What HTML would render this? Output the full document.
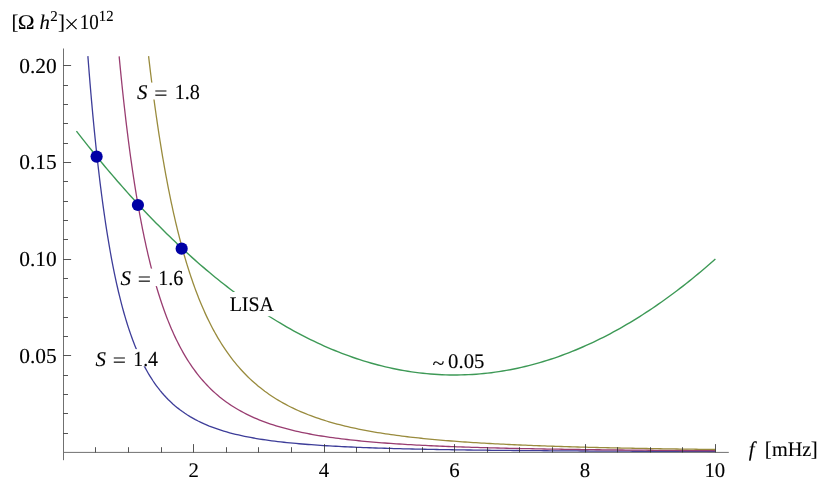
<!DOCTYPE html>
<html><head><meta charset="utf-8"><title>plot</title>
<style>
html,body{margin:0;padding:0;background:#fff;}
body{width:830px;height:489px;overflow:hidden;}
svg{display:block;will-change:transform;}
text{font-family:"Liberation Serif",serif;font-size:20.8px;fill:#000;stroke:#000;stroke-width:0.12px;text-rendering:geometricPrecision;}
.i{font-style:italic;}
</style></head><body>
<svg width="830" height="489" viewBox="0 0 830 489">
<rect width="830" height="489" fill="#fff"/>
<g fill="none" stroke-width="1.3" stroke-linejoin="round">
<path stroke="#3D3D99" d="M87.88,56.11 L88.11,59.16 L88.35,62.21 L88.59,65.26 L88.83,68.32 L89.07,71.37 L89.31,74.42 L89.56,77.47 L89.81,80.53 L90.07,83.58 L90.32,86.63 L90.58,89.68 L90.84,92.73 L91.11,95.78 L91.37,98.83 L91.64,101.88 L91.92,104.93 L92.19,107.98 L92.47,111.03 L92.75,114.08 L93.04,117.13 L93.32,120.18 L93.62,123.23 L93.91,126.27 L94.21,129.32 L94.51,132.37 L94.82,135.41 L95.13,138.46 L95.44,141.51 L95.75,144.55 L96.07,147.60 L96.40,150.64 L96.73,153.69 L97.06,156.73 L97.40,159.77 L97.74,162.82 L98.08,165.86 L98.43,168.90 L98.79,171.94 L99.15,174.98 L99.51,178.02 L99.88,181.06 L100.25,184.10 L100.63,187.14 L101.02,190.18 L101.41,193.22 L101.81,196.25 L102.21,199.29 L102.62,202.32 L103.03,205.36 L103.45,208.39 L103.88,211.42 L104.31,214.45 L104.75,217.48 L105.20,220.51 L105.65,223.54 L106.11,226.57 L106.58,229.60 L107.06,232.62 L107.54,235.64 L108.04,238.67 L108.54,241.69 L109.05,244.70 L109.57,247.72 L110.10,250.74 L110.64,253.75 L111.19,256.76 L111.75,259.78 L112.32,262.78 L112.90,265.79 L113.50,268.79 L114.10,271.80 L114.72,274.79 L115.35,277.79 L115.99,280.78 L116.65,283.78 L117.32,286.76 L118.01,289.75 L118.71,292.73 L119.43,295.70 L120.17,298.68 L120.92,301.65 L121.69,304.61 L122.47,307.57 L123.28,310.52 L124.11,313.47 L124.96,316.41 L125.83,319.35 L126.72,322.28 L127.64,325.20 L128.58,328.11 L129.55,331.02 L130.54,333.91 L131.57,336.80 L132.62,339.67 L133.70,342.54 L134.82,345.39 L135.97,348.23 L137.15,351.05 L138.37,353.86 L139.63,356.65 L140.93,359.43 L142.27,362.18 L143.65,364.91 L145.08,367.62 L146.55,370.30 L148.07,372.96 L149.64,375.59 L151.27,378.19 L152.94,380.75 L154.67,383.27 L156.46,385.76 L158.30,388.21 L160.20,390.61 L162.16,392.96 L164.18,395.26 L166.26,397.51 L168.39,399.71 L170.59,401.84 L172.84,403.92 L175.15,405.93 L177.51,407.88 L179.93,409.76 L182.39,411.57 L184.91,413.32 L187.47,415.00 L190.07,416.61 L192.72,418.15 L195.40,419.63 L198.12,421.04 L200.87,422.38 L203.65,423.67 L206.46,424.89 L209.29,426.06 L212.14,427.16 L215.02,428.22 L217.91,429.22 L220.82,430.17 L223.75,431.08 L226.68,431.94 L229.64,432.76 L232.60,433.53 L235.57,434.27 L238.55,434.97 L241.54,435.64 L244.53,436.27 L247.54,436.88 L250.54,437.45 L253.56,438.00 L256.57,438.52 L259.60,439.02 L262.62,439.49 L265.65,439.94 L268.68,440.37 L271.72,440.78 L274.75,441.17 L277.79,441.54 L280.83,441.90 L283.88,442.24 L286.92,442.57 L289.97,442.88 L293.01,443.18 L296.06,443.46 L299.11,443.74 L302.16,444.00 L305.22,444.25 L308.27,444.49 L311.32,444.72 L314.38,444.94 L317.43,445.16 L320.49,445.36 L323.54,445.56 L326.60,445.75 L329.65,445.93 L332.71,446.10 L335.77,446.27 L338.83,446.43 L341.88,446.59 L344.94,446.74 L348.00,446.88 L351.06,447.02 L354.12,447.16 L357.18,447.29 L360.24,447.41 L363.30,447.53 L366.36,447.65 L369.42,447.76 L372.48,447.87 L375.54,447.98 L378.60,448.08 L381.66,448.17 L384.72,448.27 L387.78,448.36 L390.84,448.45 L393.90,448.54 L396.96,448.62 L400.02,448.70 L403.09,448.78 L406.15,448.85 L409.21,448.93 L412.27,449.00 L415.33,449.07 L418.39,449.13 L421.45,449.20 L424.51,449.26 L427.58,449.32 L430.64,449.38 L433.70,449.44 L436.76,449.50 L439.82,449.55 L442.88,449.60 L445.95,449.65 L449.01,449.70 L452.07,449.75 L455.13,449.80 L458.19,449.85 L461.25,449.89 L464.32,449.93 L467.38,449.98 L470.44,450.02 L473.50,450.06 L476.56,450.10 L479.62,450.13 L482.69,450.17 L485.75,450.21 L488.81,450.24 L491.87,450.28 L494.93,450.31 L498.00,450.34 L501.06,450.37 L504.12,450.41 L507.18,450.44 L510.24,450.46 L513.31,450.49 L516.37,450.52 L519.43,450.55 L522.49,450.58 L525.55,450.60 L528.62,450.63 L531.68,450.65 L534.74,450.68 L537.80,450.70 L540.86,450.72 L543.93,450.75 L546.99,450.77 L550.05,450.79 L553.11,450.81 L556.17,450.83 L559.24,450.85 L562.30,450.87 L565.36,450.89 L568.42,450.91 L571.48,450.93 L574.55,450.95 L577.61,450.97 L580.67,450.98 L583.73,451.00 L586.79,451.02 L589.86,451.03 L592.92,451.05 L595.98,451.07 L599.04,451.08 L602.10,451.10 L605.17,451.11 L608.23,451.13 L611.29,451.14 L614.35,451.15 L617.41,451.17 L620.48,451.18 L623.54,451.19 L626.60,451.21 L629.66,451.22 L632.72,451.23 L635.79,451.24 L638.85,451.26 L641.91,451.27 L644.97,451.28 L648.03,451.29 L651.10,451.30 L654.16,451.31 L657.22,451.32 L660.28,451.33 L663.34,451.34 L666.41,451.35 L669.47,451.36 L672.53,451.37 L675.59,451.38 L678.66,451.39 L681.72,451.40 L684.78,451.41 L687.84,451.42 L690.90,451.43 L693.97,451.44 L697.03,451.45 L700.09,451.45 L703.15,451.46 L706.21,451.47 L709.28,451.48 L712.34,451.49 L715.40,451.49"/>
<path stroke="#993D71" d="M119.16,56.33 L119.43,59.21 L119.70,62.10 L119.98,64.99 L120.26,67.88 L120.55,70.77 L120.83,73.65 L121.12,76.54 L121.41,79.43 L121.71,82.31 L122.01,85.20 L122.31,88.08 L122.61,90.97 L122.92,93.86 L123.23,96.74 L123.54,99.62 L123.86,102.51 L124.18,105.39 L124.51,108.28 L124.84,111.16 L125.17,114.04 L125.50,116.92 L125.84,119.80 L126.18,122.69 L126.53,125.57 L126.88,128.45 L127.24,131.33 L127.60,134.20 L127.96,137.08 L128.33,139.96 L128.70,142.84 L129.08,145.72 L129.46,148.59 L129.84,151.47 L130.23,154.34 L130.63,157.22 L131.03,160.09 L131.44,162.96 L131.85,165.84 L132.26,168.71 L132.69,171.58 L133.11,174.45 L133.55,177.32 L133.99,180.18 L134.43,183.05 L134.88,185.92 L135.34,188.78 L135.80,191.65 L136.27,194.51 L136.75,197.37 L137.23,200.23 L137.72,203.09 L138.22,205.95 L138.73,208.81 L139.24,211.66 L139.76,214.52 L140.29,217.37 L140.82,220.22 L141.37,223.07 L141.92,225.92 L142.48,228.77 L143.06,231.61 L143.64,234.45 L144.23,237.29 L144.83,240.13 L145.44,242.97 L146.06,245.80 L146.69,248.64 L147.33,251.47 L147.98,254.29 L148.65,257.12 L149.33,259.94 L150.02,262.76 L150.72,265.57 L151.43,268.38 L152.16,271.19 L152.90,274.00 L153.66,276.80 L154.43,279.59 L155.22,282.39 L156.02,285.18 L156.84,287.96 L157.67,290.74 L158.52,293.51 L159.40,296.28 L160.28,299.04 L161.19,301.80 L162.12,304.55 L163.07,307.29 L164.03,310.02 L165.02,312.75 L166.04,315.47 L167.07,318.18 L168.13,320.88 L169.21,323.57 L170.32,326.25 L171.46,328.92 L172.62,331.58 L173.81,334.23 L175.03,336.86 L176.28,339.48 L177.56,342.08 L178.88,344.67 L180.22,347.24 L181.60,349.79 L183.01,352.33 L184.46,354.84 L185.95,357.33 L187.47,359.80 L189.03,362.25 L190.63,364.67 L192.27,367.06 L193.96,369.43 L195.68,371.76 L197.44,374.06 L199.25,376.33 L201.10,378.57 L202.99,380.77 L204.92,382.93 L206.90,385.06 L208.92,387.14 L210.99,389.18 L213.09,391.17 L215.24,393.12 L217.43,395.03 L219.65,396.89 L221.92,398.70 L224.23,400.46 L226.57,402.17 L228.94,403.84 L231.35,405.45 L233.80,407.02 L236.27,408.53 L238.78,410.00 L241.31,411.42 L243.87,412.79 L246.45,414.11 L249.05,415.38 L251.68,416.61 L254.33,417.80 L257.00,418.94 L259.68,420.04 L262.38,421.10 L265.10,422.12 L267.83,423.10 L270.58,424.04 L273.33,424.94 L276.10,425.81 L278.88,426.65 L281.67,427.46 L284.46,428.23 L287.27,428.98 L290.08,429.69 L292.90,430.38 L295.72,431.04 L298.55,431.68 L301.39,432.29 L304.23,432.88 L307.07,433.45 L309.92,434.00 L312.78,434.52 L315.63,435.03 L318.49,435.52 L321.36,435.99 L324.22,436.44 L327.09,436.88 L329.96,437.30 L332.83,437.70 L335.71,438.09 L338.59,438.47 L341.46,438.83 L344.34,439.18 L347.23,439.52 L350.11,439.85 L352.99,440.17 L355.88,440.47 L358.76,440.77 L361.65,441.05 L364.54,441.33 L367.43,441.59 L370.32,441.85 L373.21,442.10 L376.10,442.34 L378.99,442.58 L381.89,442.80 L384.78,443.02 L387.67,443.23 L390.57,443.44 L393.46,443.64 L396.36,443.83 L399.25,444.02 L402.15,444.20 L405.04,444.38 L407.94,444.55 L410.84,444.71 L413.73,444.87 L416.63,445.03 L419.53,445.18 L422.43,445.33 L425.32,445.47 L428.22,445.61 L431.12,445.74 L434.02,445.87 L436.92,446.00 L439.82,446.13 L442.72,446.25 L445.61,446.36 L448.51,446.48 L451.41,446.59 L454.31,446.70 L457.21,446.80 L460.11,446.90 L463.01,447.00 L465.91,447.10 L468.81,447.20 L471.71,447.29 L474.61,447.38 L477.51,447.46 L480.41,447.55 L483.31,447.63 L486.21,447.71 L489.11,447.79 L492.01,447.87 L494.91,447.94 L497.81,448.02 L500.71,448.09 L503.61,448.16 L506.52,448.23 L509.42,448.29 L512.32,448.36 L515.22,448.42 L518.12,448.48 L521.02,448.55 L523.92,448.60 L526.82,448.66 L529.72,448.72 L532.62,448.77 L535.52,448.83 L538.42,448.88 L541.32,448.93 L544.23,448.98 L547.13,449.03 L550.03,449.08 L552.93,449.13 L555.83,449.17 L558.73,449.22 L561.63,449.26 L564.53,449.31 L567.43,449.35 L570.34,449.39 L573.24,449.43 L576.14,449.47 L579.04,449.51 L581.94,449.55 L584.84,449.58 L587.74,449.62 L590.64,449.66 L593.54,449.69 L596.45,449.73 L599.35,449.76 L602.25,449.79 L605.15,449.82 L608.05,449.86 L610.95,449.89 L613.85,449.92 L616.75,449.95 L619.66,449.98 L622.56,450.01 L625.46,450.03 L628.36,450.06 L631.26,450.09 L634.16,450.12 L637.06,450.14 L639.97,450.17 L642.87,450.19 L645.77,450.22 L648.67,450.24 L651.57,450.27 L654.47,450.29 L657.37,450.31 L660.27,450.33 L663.18,450.36 L666.08,450.38 L668.98,450.40 L671.88,450.42 L674.78,450.44 L677.68,450.46 L680.58,450.48 L683.49,450.50 L686.39,450.52 L689.29,450.54 L692.19,450.56 L695.09,450.58 L697.99,450.59 L700.89,450.61 L703.79,450.63 L706.70,450.65 L709.60,450.66 L712.50,450.68 L715.40,450.70"/>
<path stroke="#998B3D" d="M148.58,56.15 L148.90,58.89 L149.22,61.62 L149.55,64.36 L149.87,67.09 L150.20,69.82 L150.53,72.56 L150.87,75.29 L151.21,78.02 L151.55,80.75 L151.90,83.49 L152.25,86.22 L152.60,88.95 L152.95,91.68 L153.31,94.41 L153.67,97.14 L154.04,99.87 L154.41,102.59 L154.78,105.32 L155.16,108.05 L155.54,110.78 L155.93,113.50 L156.31,116.23 L156.71,118.95 L157.10,121.68 L157.50,124.40 L157.91,127.12 L158.32,129.85 L158.73,132.57 L159.15,135.29 L159.58,138.01 L160.00,140.73 L160.44,143.45 L160.87,146.17 L161.32,148.88 L161.76,151.60 L162.22,154.32 L162.67,157.03 L163.14,159.75 L163.61,162.46 L164.08,165.17 L164.56,167.88 L165.05,170.59 L165.54,173.30 L166.04,176.01 L166.54,178.72 L167.05,181.42 L167.57,184.13 L168.09,186.83 L168.62,189.53 L169.16,192.23 L169.70,194.93 L170.26,197.63 L170.81,200.32 L171.38,203.02 L171.96,205.71 L172.54,208.40 L173.13,211.09 L173.73,213.78 L174.33,216.46 L174.95,219.15 L175.57,221.83 L176.21,224.51 L176.85,227.18 L177.50,229.86 L178.16,232.53 L178.84,235.20 L179.52,237.87 L180.21,240.53 L180.91,243.20 L181.63,245.85 L182.35,248.51 L183.09,251.16 L183.84,253.81 L184.60,256.46 L185.38,259.10 L186.16,261.74 L186.96,264.37 L187.78,267.00 L188.61,269.63 L189.45,272.25 L190.31,274.87 L191.18,277.48 L192.07,280.08 L192.97,282.68 L193.89,285.28 L194.82,287.87 L195.78,290.45 L196.75,293.03 L197.74,295.60 L198.75,298.16 L199.77,300.71 L200.82,303.26 L201.89,305.80 L202.98,308.33 L204.09,310.85 L205.22,313.36 L206.37,315.86 L207.55,318.35 L208.75,320.82 L209.97,323.29 L211.22,325.74 L212.50,328.18 L213.80,330.61 L215.13,333.02 L216.48,335.42 L217.86,337.80 L219.27,340.16 L220.71,342.51 L222.18,344.84 L223.68,347.15 L225.21,349.44 L226.77,351.71 L228.36,353.95 L229.99,356.18 L231.64,358.38 L233.33,360.55 L235.05,362.70 L236.81,364.82 L238.59,366.92 L240.41,368.98 L242.27,371.02 L244.15,373.02 L246.07,375.00 L248.02,376.94 L250.01,378.85 L252.03,380.72 L254.07,382.56 L256.15,384.36 L258.26,386.13 L260.41,387.86 L262.58,389.56 L264.77,391.22 L267.00,392.83 L269.25,394.42 L271.53,395.96 L273.84,397.47 L276.17,398.93 L278.52,400.36 L280.90,401.76 L283.29,403.11 L285.71,404.43 L288.14,405.71 L290.60,406.96 L293.07,408.17 L295.56,409.35 L298.07,410.49 L300.59,411.60 L303.12,412.67 L305.67,413.72 L308.23,414.73 L310.80,415.71 L313.39,416.66 L315.98,417.58 L318.58,418.48 L321.20,419.34 L323.82,420.18 L326.45,421.00 L329.09,421.79 L331.73,422.55 L334.38,423.30 L337.04,424.01 L339.70,424.71 L342.37,425.39 L345.05,426.04 L347.73,426.68 L350.41,427.29 L353.10,427.89 L355.79,428.47 L358.49,429.03 L361.18,429.57 L363.89,430.10 L366.59,430.61 L369.30,431.11 L372.01,431.59 L374.72,432.06 L377.44,432.52 L380.16,432.96 L382.88,433.39 L385.60,433.80 L388.32,434.21 L391.05,434.60 L393.77,434.98 L396.50,435.35 L399.23,435.71 L401.96,436.06 L404.69,436.40 L407.43,436.73 L410.16,437.06 L412.90,437.37 L415.63,437.67 L418.37,437.97 L421.11,438.26 L423.85,438.54 L426.59,438.81 L429.33,439.08 L432.07,439.34 L434.81,439.59 L437.55,439.84 L440.29,440.08 L443.04,440.31 L445.78,440.54 L448.52,440.76 L451.27,440.98 L454.01,441.19 L456.76,441.39 L459.51,441.60 L462.25,441.79 L465.00,441.98 L467.75,442.17 L470.49,442.35 L473.24,442.53 L475.99,442.70 L478.74,442.87 L481.48,443.03 L484.23,443.20 L486.98,443.35 L489.73,443.51 L492.48,443.66 L495.23,443.80 L497.98,443.95 L500.73,444.09 L503.48,444.22 L506.23,444.36 L508.98,444.49 L511.73,444.62 L514.48,444.74 L517.23,444.86 L519.98,444.98 L522.73,445.10 L525.48,445.22 L528.23,445.33 L530.98,445.44 L533.74,445.54 L536.49,445.65 L539.24,445.75 L541.99,445.85 L544.74,445.95 L547.49,446.05 L550.24,446.14 L553.00,446.24 L555.75,446.33 L558.50,446.42 L561.25,446.50 L564.00,446.59 L566.75,446.67 L569.51,446.75 L572.26,446.83 L575.01,446.91 L577.76,446.99 L580.51,447.07 L583.27,447.14 L586.02,447.21 L588.77,447.28 L591.52,447.35 L594.28,447.42 L597.03,447.49 L599.78,447.56 L602.53,447.62 L605.29,447.69 L608.04,447.75 L610.79,447.81 L613.54,447.87 L616.30,447.93 L619.05,447.99 L621.80,448.04 L624.55,448.10 L627.31,448.15 L630.06,448.21 L632.81,448.26 L635.57,448.31 L638.32,448.36 L641.07,448.41 L643.82,448.46 L646.58,448.51 L649.33,448.56 L652.08,448.61 L654.83,448.65 L657.59,448.70 L660.34,448.74 L663.09,448.79 L665.85,448.83 L668.60,448.87 L671.35,448.91 L674.11,448.95 L676.86,448.99 L679.61,449.03 L682.36,449.07 L685.12,449.11 L687.87,449.15 L690.62,449.19 L693.38,449.22 L696.13,449.26 L698.88,449.29 L701.63,449.33 L704.39,449.36 L707.14,449.39 L709.89,449.43 L712.65,449.46 L715.40,449.49"/>
<path stroke="#3D9956" stroke-width="1.4" d="M76.44,131.13 L78.78,134.14 L81.12,137.14 L83.48,140.13 L85.85,143.11 L88.22,146.09 L90.60,149.06 L93.00,152.02 L95.40,154.97 L97.81,157.92 L100.24,160.85 L102.67,163.78 L105.11,166.70 L107.56,169.62 L110.02,172.52 L112.50,175.42 L114.98,178.30 L117.47,181.18 L119.98,184.05 L122.49,186.91 L125.02,189.76 L127.55,192.60 L130.10,195.43 L132.66,198.25 L135.23,201.06 L137.81,203.86 L140.40,206.65 L143.01,209.42 L145.62,212.19 L148.25,214.95 L150.89,217.69 L153.54,220.43 L156.20,223.15 L158.88,225.86 L161.56,228.55 L164.26,231.24 L166.97,233.91 L169.70,236.57 L172.44,239.22 L175.19,241.85 L177.95,244.47 L180.72,247.08 L183.51,249.67 L186.32,252.25 L189.13,254.81 L191.96,257.36 L194.80,259.89 L197.66,262.41 L200.53,264.91 L203.42,267.40 L206.31,269.86 L209.23,272.32 L212.16,274.75 L215.10,277.17 L218.05,279.57 L221.02,281.95 L224.01,284.31 L227.01,286.66 L230.02,288.98 L233.06,291.29 L236.10,293.57 L239.16,295.84 L242.24,298.08 L245.33,300.30 L248.44,302.50 L251.56,304.68 L254.70,306.84 L257.85,308.97 L261.02,311.08 L264.21,313.17 L267.41,315.23 L270.62,317.27 L273.86,319.28 L277.11,321.26 L280.37,323.22 L283.65,325.15 L286.95,327.05 L290.26,328.93 L293.59,330.78 L296.94,332.59 L300.30,334.38 L303.68,336.14 L307.07,337.87 L310.48,339.56 L313.91,341.23 L317.35,342.86 L320.80,344.45 L324.27,346.02 L327.76,347.55 L331.26,349.04 L334.78,350.50 L338.31,351.92 L341.86,353.31 L345.42,354.65 L349.00,355.96 L352.59,357.23 L356.19,358.47 L359.80,359.66 L363.43,360.81 L367.08,361.92 L370.73,362.99 L374.40,364.01 L378.08,364.99 L381.77,365.93 L385.47,366.83 L389.18,367.68 L392.90,368.49 L396.63,369.25 L400.37,369.97 L404.12,370.63 L407.87,371.26 L411.64,371.83 L415.41,372.36 L419.19,372.84 L422.97,373.27 L426.76,373.66 L430.55,373.99 L434.35,374.28 L438.15,374.52 L441.95,374.71 L445.75,374.85 L449.56,374.94 L453.37,374.98 L457.18,374.97 L460.98,374.91 L464.79,374.80 L468.59,374.65 L472.39,374.44 L476.19,374.18 L479.99,373.88 L483.78,373.53 L487.57,373.13 L491.35,372.68 L495.12,372.18 L498.89,371.64 L502.65,371.04 L506.41,370.40 L510.15,369.72 L513.89,368.99 L517.61,368.21 L521.33,367.39 L525.04,366.52 L528.74,365.61 L532.42,364.65 L536.10,363.65 L539.76,362.61 L543.41,361.53 L547.05,360.41 L550.67,359.24 L554.28,358.04 L557.88,356.79 L561.47,355.51 L565.04,354.18 L568.59,352.82 L572.13,351.42 L575.66,349.99 L579.17,348.52 L582.67,347.01 L586.15,345.47 L589.62,343.90 L593.07,342.29 L596.50,340.64 L599.92,338.97 L603.33,337.26 L606.71,335.52 L610.09,333.76 L613.44,331.96 L616.78,330.13 L620.11,328.27 L623.41,326.39 L626.71,324.47 L629.98,322.53 L633.24,320.56 L636.48,318.57 L639.71,316.55 L642.92,314.50 L646.12,312.44 L649.30,310.34 L652.46,308.22 L655.61,306.08 L658.74,303.92 L661.86,301.73 L664.96,299.52 L668.05,297.29 L671.12,295.04 L674.17,292.77 L677.21,290.48 L680.24,288.16 L683.25,285.83 L686.25,283.48 L689.23,281.11 L692.19,278.72 L695.14,276.32 L698.08,273.89 L701.00,271.45 L703.91,269.00 L706.80,266.52 L709.68,264.03 L712.55,261.52 L715.40,259.00"/>
</g>
<g stroke="#707070" stroke-width="1">
<line x1="63.5" y1="48.5" x2="63.5" y2="460.2"/>
<line x1="63.0" y1="452.4" x2="728.8" y2="452.4"/>
</g>
<g stroke="#2a2a2a" stroke-width="0.8">
<line x1="95.5" y1="452.40" x2="95.5" y2="447.20"/>
<line x1="128.5" y1="452.40" x2="128.5" y2="447.20"/>
<line x1="161.5" y1="452.40" x2="161.5" y2="447.20"/>
<line x1="193.5" y1="452.40" x2="193.5" y2="444.10"/>
<line x1="226.5" y1="452.40" x2="226.5" y2="447.20"/>
<line x1="258.5" y1="452.40" x2="258.5" y2="447.20"/>
<line x1="291.5" y1="452.40" x2="291.5" y2="447.20"/>
<line x1="324.5" y1="452.40" x2="324.5" y2="444.10"/>
<line x1="356.5" y1="452.40" x2="356.5" y2="447.20"/>
<line x1="389.5" y1="452.40" x2="389.5" y2="447.20"/>
<line x1="422.5" y1="452.40" x2="422.5" y2="447.20"/>
<line x1="454.5" y1="452.40" x2="454.5" y2="444.10"/>
<line x1="487.5" y1="452.40" x2="487.5" y2="447.20"/>
<line x1="519.5" y1="452.40" x2="519.5" y2="447.20"/>
<line x1="552.5" y1="452.40" x2="552.5" y2="447.20"/>
<line x1="585.5" y1="452.40" x2="585.5" y2="444.10"/>
<line x1="617.5" y1="452.40" x2="617.5" y2="447.20"/>
<line x1="650.5" y1="452.40" x2="650.5" y2="447.20"/>
<line x1="682.5" y1="452.40" x2="682.5" y2="447.20"/>
<line x1="715.5" y1="452.40" x2="715.5" y2="444.10"/>
<line x1="63.5" y1="433.5" x2="68.0" y2="433.5"/>
<line x1="63.5" y1="413.5" x2="68.0" y2="413.5"/>
<line x1="63.5" y1="394.5" x2="68.0" y2="394.5"/>
<line x1="63.5" y1="375.5" x2="68.0" y2="375.5"/>
<line x1="63.5" y1="355.5" x2="71.1" y2="355.5"/>
<line x1="63.5" y1="336.5" x2="68.0" y2="336.5"/>
<line x1="63.5" y1="317.5" x2="68.0" y2="317.5"/>
<line x1="63.5" y1="297.5" x2="68.0" y2="297.5"/>
<line x1="63.5" y1="278.5" x2="68.0" y2="278.5"/>
<line x1="63.5" y1="259.5" x2="71.1" y2="259.5"/>
<line x1="63.5" y1="239.5" x2="68.0" y2="239.5"/>
<line x1="63.5" y1="220.5" x2="68.0" y2="220.5"/>
<line x1="63.5" y1="201.5" x2="68.0" y2="201.5"/>
<line x1="63.5" y1="181.5" x2="68.0" y2="181.5"/>
<line x1="63.5" y1="162.5" x2="71.1" y2="162.5"/>
<line x1="63.5" y1="143.5" x2="68.0" y2="143.5"/>
<line x1="63.5" y1="123.5" x2="68.0" y2="123.5"/>
<line x1="63.5" y1="104.5" x2="68.0" y2="104.5"/>
<line x1="63.5" y1="85.5" x2="68.0" y2="85.5"/>
<line x1="63.5" y1="65.5" x2="71.1" y2="65.5"/>
</g>
<g fill="#0000A5">
<circle cx="96.60" cy="156.60" r="6.1"/>
<circle cx="137.90" cy="205.00" r="6.1"/>
<circle cx="181.65" cy="248.65" r="6.1"/>
</g>
<text x="188.62" y="477.00">2</text>
<text x="318.86" y="477.00">4</text>
<text x="449.16" y="477.00">6</text>
<text x="579.70" y="477.00">8</text>
<text x="704.38" y="477.00">10</text>
<text x="56.7" y="363" text-anchor="end" style="font-size:21.4px">0.05</text>
<text x="56.7" y="266" text-anchor="end" style="font-size:21.4px">0.10</text>
<text x="56.7" y="169" text-anchor="end" style="font-size:21.4px">0.15</text>
<text x="56.7" y="73" text-anchor="end" style="font-size:21.4px">0.20</text>
<rect x="135.3" y="82.6" width="66" height="16.90" fill="#fff"/>
<text x="137.06" y="99.00" class="i">S</text>
<text x="154.33" y="100.00" textLength="13.21" lengthAdjust="spacingAndGlyphs">=</text>
<text x="174.73" y="99.00" style="font-size:21.4px" textLength="25.24" lengthAdjust="spacingAndGlyphs">1.8</text>
<rect x="118.8" y="268.6" width="66" height="17.50" fill="#fff"/>
<text x="120.56" y="285.00" class="i">S</text>
<text x="137.83" y="286.00" textLength="13.21" lengthAdjust="spacingAndGlyphs">=</text>
<text x="158.24" y="285.00" style="font-size:21.4px" textLength="25.06" lengthAdjust="spacingAndGlyphs">1.6</text>
<rect x="93.8" y="349.1" width="66" height="17.20" fill="#fff"/>
<text x="95.56" y="366.00" class="i">S</text>
<text x="112.83" y="367.00" textLength="13.21" lengthAdjust="spacingAndGlyphs">=</text>
<text x="133.26" y="366.00" style="font-size:21.4px" textLength="24.75" lengthAdjust="spacingAndGlyphs">1.4</text>
<rect x="228" y="292.0" width="48" height="24.2" fill="#fff"/>
<text x="229.63" y="311.00" textLength="44.32" lengthAdjust="spacingAndGlyphs">LISA</text>
<text x="432.49" y="370.00" textLength="11.84" lengthAdjust="spacingAndGlyphs">~</text>
<text x="448.11" y="368.00" textLength="36.30" lengthAdjust="spacingAndGlyphs">0.05</text>
<text x="11.56" y="29.00">[</text>
<text x="17.73" y="29.00" textLength="16.85" lengthAdjust="spacingAndGlyphs">Ω</text>
<text x="39.55" y="29.00" class="i">h</text>
<text x="50.14" y="21.00" style="font-size:15px">2</text>
<text x="58.05" y="29.00">]</text>
<path d="M66.5,19.1 L76.6,29.2 M76.6,19.1 L66.5,29.2" stroke="#000" stroke-width="1.15" fill="none"/>
<text x="79.73" y="29.00" style="font-size:21.4px" textLength="18.99" lengthAdjust="spacingAndGlyphs">10</text>
<text x="98.81" y="21.00" style="font-size:15.5px" textLength="14.70" lengthAdjust="spacingAndGlyphs">12</text>
<text x="748.77" y="456.00" class="i">f</text>
<text x="764.66" y="456.00">[</text>
<text x="771.97" y="456.00" textLength="39.39" lengthAdjust="spacingAndGlyphs">mHz</text>
<text x="810.85" y="456.00">]</text>
</svg>
</body></html>
